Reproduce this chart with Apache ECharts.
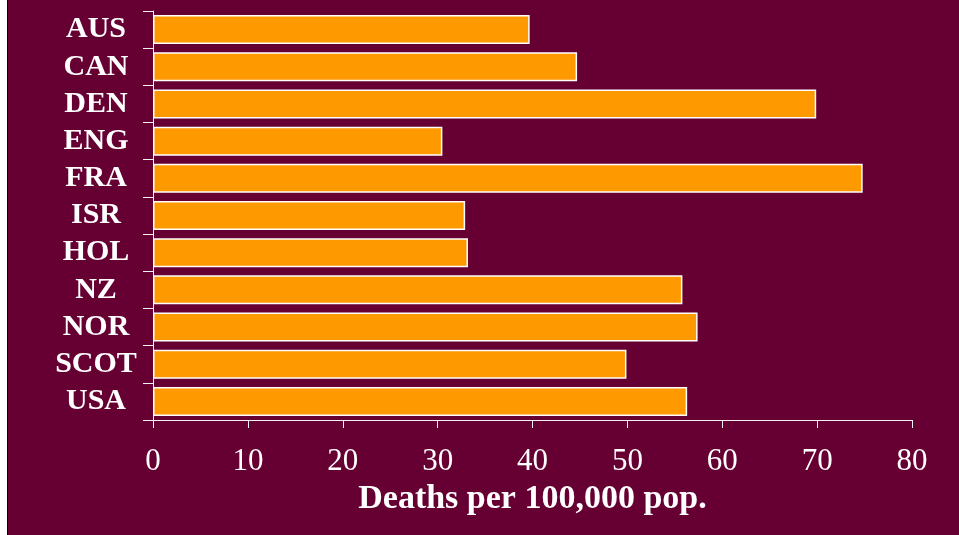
<!DOCTYPE html>
<html>
<head>
<meta charset="utf-8">
<script src="https://cdn.jsdelivr.net/npm/echarts@6/dist/echarts.min.js"></script>
<style>
  html, body { margin: 0; padding: 0; background: #fff; }
  #main {
    width: 959px; height: 535px;
    /* white strip + thin black rule on the left, maroon slide behind */
    background: linear-gradient(to right, #fff 0 7px, #000 7px 8px, #660033 8px);
  }
</style>
</head>
<body>
<div id="main"></div>
<script>
// countries, top to bottom
let countries = ['AUS', 'CAN', 'DEN', 'ENG', 'FRA', 'ISR', 'HOL', 'NZ', 'NOR', 'SCOT', 'USA'];
// deaths per 100,000 population
let deaths = [39.7, 44.7, 69.9, 30.5, 74.8, 32.9, 33.2, 55.8, 57.4, 49.9, 56.3];
let xTicks = [0, 80, 10]; // min, max, step

let chart = echarts.init(document.getElementById('main'));

let option = {
  backgroundColor: 'transparent',
  animation: false,
  grid: { left: 153, right: 47, top: 11, bottom: 115, containLabel: false },
  xAxis: {
    type: 'value',
    min: xTicks[0],
    max: xTicks[1],
    interval: xTicks[2],
    name: 'Deaths per 100,000 pop.',
    nameLocation: 'middle',
    nameGap: 46,
    nameTextStyle: {
      color: '#fff',
      fontFamily: 'Liberation Serif',
      fontWeight: 'bold',
      fontSize: 34
    },
    axisLine: { show: true, lineStyle: { color: '#f2f2f2', width: 1 } },
    axisTick: { show: true, length: 8, lineStyle: { color: '#f2f2f2', width: 1 } },
    axisLabel: {
      color: '#fff',
      fontFamily: 'Liberation Serif',
      fontSize: 31,
      margin: 26
    },
    splitLine: { show: false }
  },
  yAxis: {
    type: 'category',
    data: countries,
    inverse: true,
    axisLine: { show: true, lineStyle: { color: '#f2f2f2', width: 1 } },
    axisTick: { show: true, length: 10, lineStyle: { color: '#f2f2f2', width: 1 } },
    axisLabel: {
      interval: 0,
      align: 'center',   // labels sit centred in the left margin
      color: '#fff',
      fontFamily: 'Liberation Serif',
      fontWeight: 'bold',
      fontSize: 30,
      margin: 57
    }
  },
  series: [{
    type: 'bar',
    data: deaths,
    barCategoryGap: '22%',
    itemStyle: {
      color: '#ff9900',
      borderColor: '#fff',
      borderWidth: 1.5
    }
  }]
};

chart.setOption(option);
</script>
</body>
</html>
